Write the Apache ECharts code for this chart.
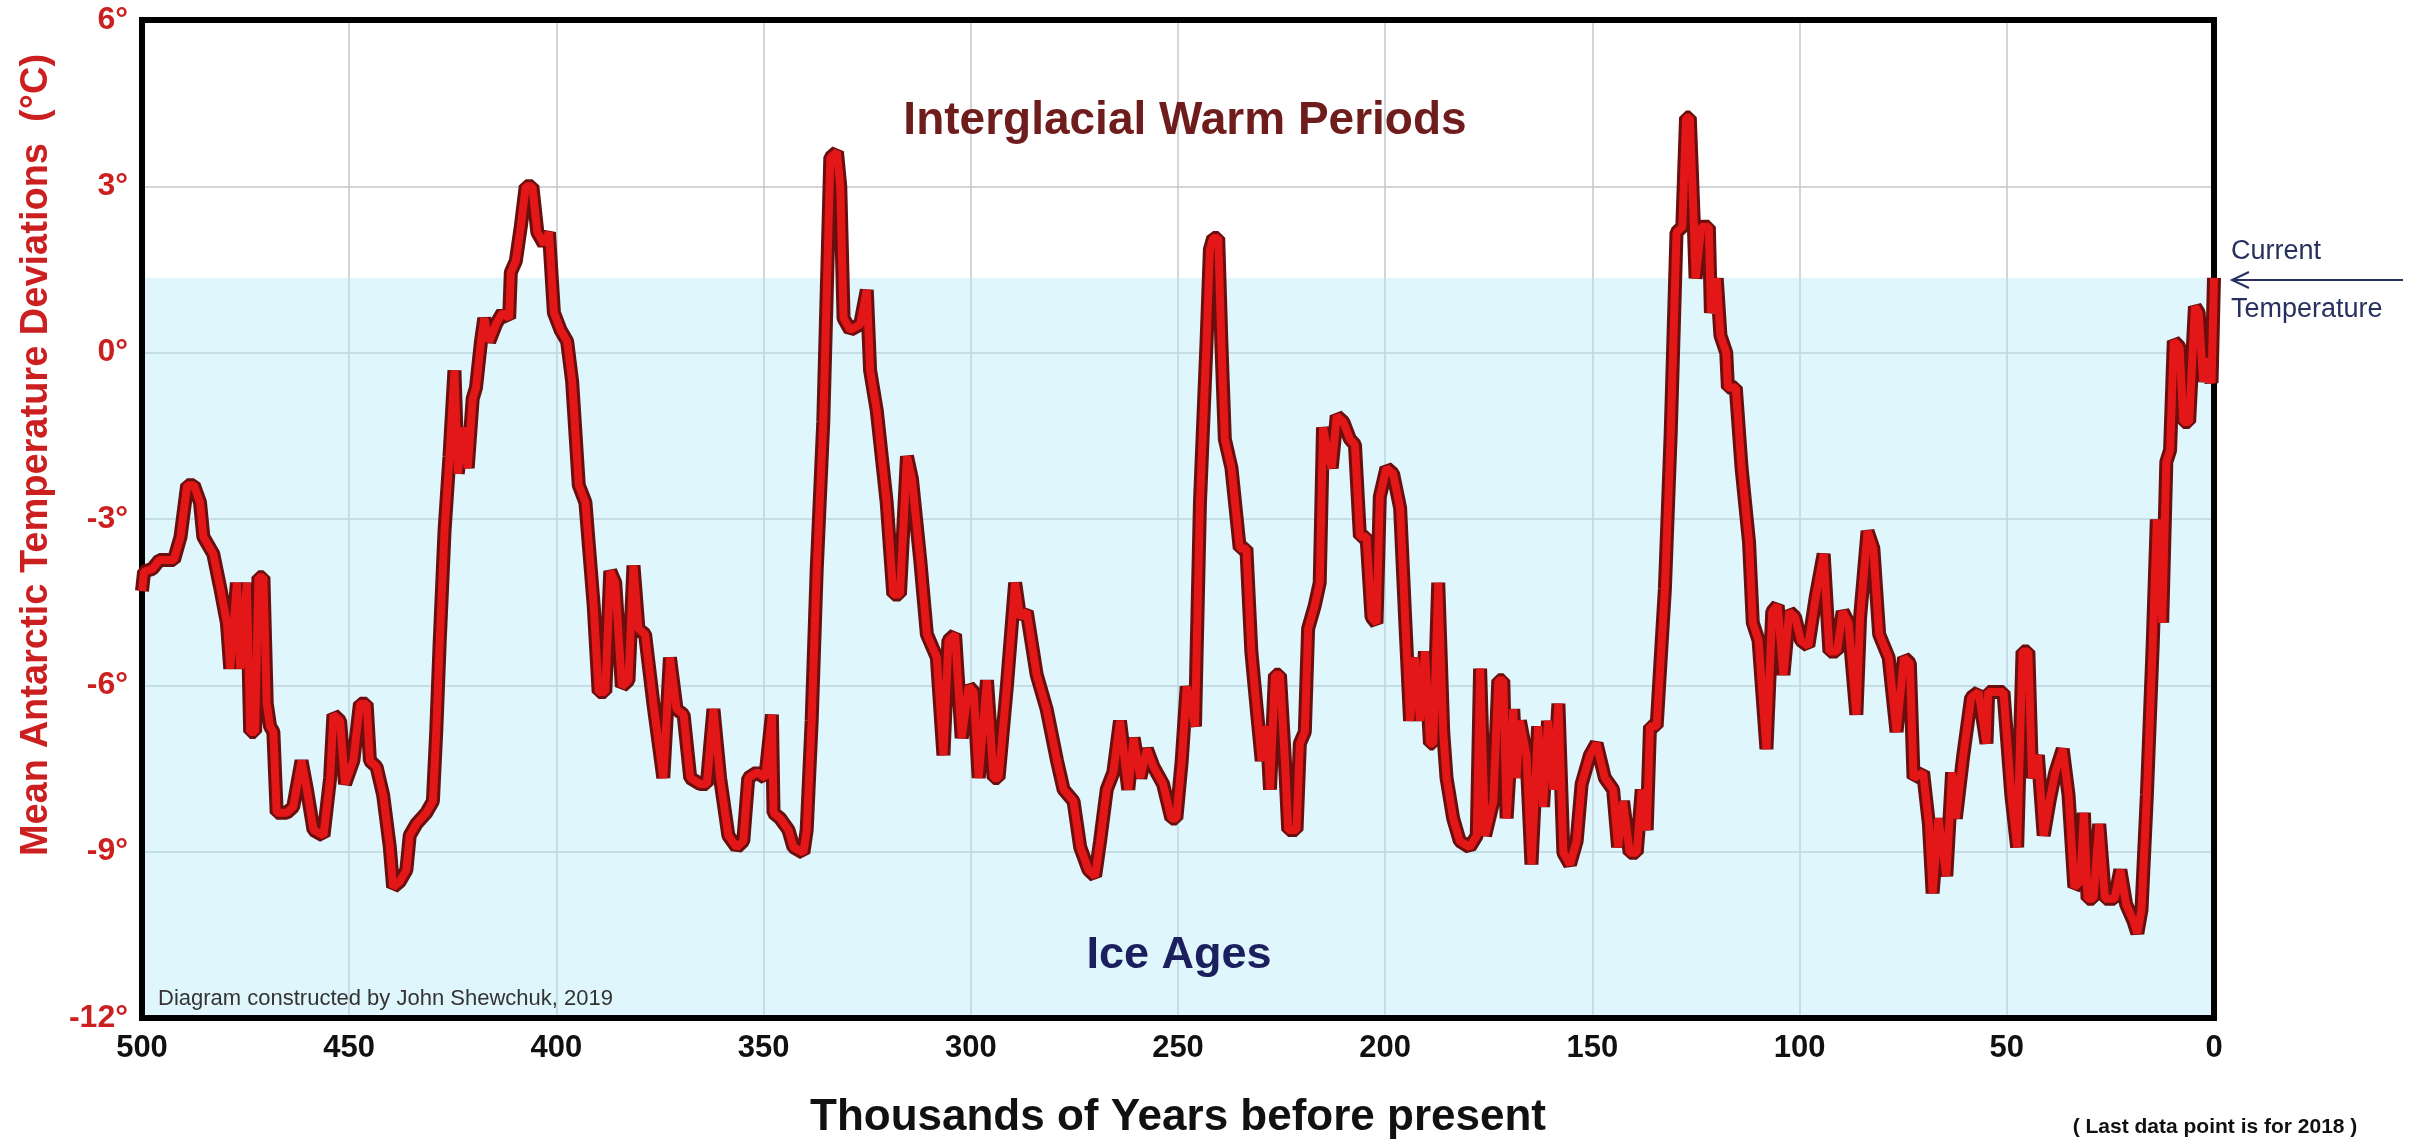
<!DOCTYPE html>
<html>
<head>
<meta charset="utf-8">
<script src="https://cdn.jsdelivr.net/npm/echarts@6/dist/echarts.min.js"></script>
<style>
html,body{margin:0;padding:0;background:#fff;}
#chart{width:2426px;height:1146px;}
</style>
</head>
<body>
<div id="chart"></div>
<script>
// Thousands of years before present
const years = [
500,499.5,497.5,495.8,492.3,490.7,489.1,487.5,486.0,485.2,482.8,481.1,479.5,478.7,477.1,476.3,474.7,473.9,472.7,471.9,
470.7,469.9,469.1,468.3,467.5,465.1,463.5,461.5,460.2,458.6,456.2,454.6,453.8,452.2,451.0,449.0,447.4,445.8,445.0,443.4,
441.8,440.2,439.4,437.8,436.2,435.4,433.8,431.4,429.8,429.0,428.2,427.0,425.8,424.6,423.8,422.6,421.4,420.2,419.4,418.2,
417.4,416.2,414.6,413.0,411.4,411.0,409.8,408.6,407.4,405.8,404.6,403.0,401.8,400.6,399.0,397.4,396.2,394.6,393.0,391.0,
389.8,388.2,387.0,385.8,384.2,382.6,381.4,380.2,378.6,376.6,374.2,372.6,371.0,369.3,367.7,365.3,363.7,362.1,360.5,358.5,
356.5,354.9,353.7,351.6,349.6,348.0,347.6,346.0,344.0,342.8,340.4,339.6,338.4,337.2,335.6,333.9,332.3,331.5,330.7,329.1,
326.7,325.1,324.3,322.7,320.3,318.7,317.1,315.4,314.2,312.2,310.6,308.2,306.6,305.4,303.8,302.2,300.5,299.3,298.1,296.1,
294.5,293.3,291.3,289.3,288.1,286.5,284.1,281.7,279.2,277.6,275.2,273.6,271.6,270.0,268.8,267.2,265.6,264.0,262.0,260.7,
259.1,257.5,255.9,253.6,251.6,250.4,249.1,247.9,245.9,244.7,243.1,242.3,241.5,240.3,239.5,238.7,237.1,235.1,233.5,232.3,
231.0,229.8,228.6,227.8,226.6,225.4,224.2,223.4,221.4,220.6,219.4,218.6,217.0,215.8,215.0,214.2,212.9,211.7,210.1,208.5,
207.3,206.1,204.5,203.3,202.1,201.3,199.7,198.1,196.4,195.2,194.0,192.8,191.6,190.4,189.2,188.4,187.2,186.0,185.2,183.6,
182.0,179.6,177.9,177.1,175.9,173.9,172.7,171.5,170.7,169.1,168.3,167.5,165.9,164.7,163.1,161.9,160.7,159.4,158.2,157.0,
155.4,153.8,152.6,150.6,149.0,147.0,145.0,143.8,142.6,141.0,139.3,138.1,136.9,136.1,134.5,132.5,131.1,129.7,128.3,127.4,
126.5,125.6,125.1,123.7,121.9,121.4,120.0,119.1,117.7,117.3,115.4,114.0,112.2,111.3,109.9,108.0,106.6,105.3,103.9,102.5,
101.1,99.7,97.9,96.0,94.2,92.8,91.0,89.6,88.2,86.3,85.4,83.6,82.2,80.8,78.5,76.6,74.8,73.4,72.5,70.2,
68.8,67.9,66.5,64.6,63.2,62.3,60.5,58.6,56.8,54.9,54.5,52.2,50.8,48.9,47.5,46.2,44.8,43.9,42.5,41.1,
39.7,38.3,36.5,35.1,33.7,32.3,31.4,30.5,29.1,27.7,26.3,24.0,22.6,21.2,19.4,18.5,17.5,16.2,14.8,13.8,
12.5,11.5,10.6,9.7,8.3,7.4,6.0,4.6,3.7,2.6,1.4,0.6,0.0
];
// Mean Antarctic temperature deviation (°C)
const temps = [
-4.3,-3.95,-3.9,-3.74,-3.74,-3.32,-2.39,-2.39,-2.70,-3.32,-3.63,-4.25,-4.88,-5.70,-4.15,-5.70,-4.15,-6.84,-6.84,-4.05,
-4.05,-6.33,-6.74,-6.84,-8.30,-8.30,-8.19,-7.36,-7.88,-8.61,-8.71,-7.67,-6.53,-6.64,-7.78,-7.36,-6.33,-6.33,-7.36,-7.47,
-7.98,-8.92,-9.64,-9.54,-9.33,-8.71,-8.50,-8.30,-8.09,-6.84,-5.29,-3.22,-1.87,-0.32,-2.18,-1.35,-2.08,-0.83,-0.63,0.20,
0.62,0.20,0.51,0.72,0.62,1.45,1.65,2.27,3.00,3.00,2.17,1.96,2.17,0.72,0.41,0.20,-0.52,-2.39,-2.70,-4.56,
-6.12,-6.12,-3.94,-4.15,-6.02,-5.91,-3.84,-4.98,-5.08,-6.33,-7.67,-5.50,-6.43,-6.53,-7.67,-7.78,-7.78,-6.43,-7.67,-8.71,
-8.92,-8.81,-7.67,-7.57,-7.67,-6.53,-8.30,-8.40,-8.61,-8.92,-9.02,-8.61,-6.64,-3.94,-1.25,3.52,3.62,3.00,0.62,0.41,
0.51,1.13,-0.32,-1.04,-2.70,-4.36,-4.36,-1.87,-2.28,-3.74,-5.08,-5.50,-7.26,-5.19,-5.08,-6.95,-6.02,-6.12,-7.67,-5.91,
-7.67,-7.67,-6.02,-4.15,-4.77,-4.67,-5.81,-6.43,-7.36,-7.88,-8.09,-8.92,-9.33,-9.44,-8.81,-7.88,-7.57,-6.64,-7.88,-6.95,
-7.67,-7.15,-7.47,-7.78,-8.40,-8.40,-7.36,-6.02,-6.74,-2.70,0.21,1.86,2.07,2.07,0.10,-1.56,-2.08,-3.53,-3.53,-5.39,
-6.43,-7.36,-6.74,-7.88,-5.81,-5.81,-7.36,-8.61,-8.61,-7.05,-6.84,-4.98,-4.56,-4.15,-1.35,-1.66,-2.08,-1.14,-1.25,-1.56,
-1.66,-3.32,-3.32,-4.77,-4.88,-2.60,-2.08,-2.18,-2.80,-4.77,-6.64,-5.50,-6.64,-5.39,-7.05,-7.05,-4.15,-6.84,-7.67,-8.40,
-8.81,-8.92,-8.71,-5.70,-8.71,-8.09,-5.91,-5.91,-8.40,-6.43,-7.67,-6.64,-7.26,-9.23,-6.74,-8.19,-6.64,-7.88,-6.33,-9.02,
-9.23,-8.81,-7.78,-7.26,-7.05,-7.67,-7.88,-8.92,-8.09,-9.02,-9.02,-7.88,-8.61,-6.74,-6.74,-4.25,-1.45,2.17,2.27,4.24,
4.24,2.48,1.34,2.27,2.27,0.72,1.34,0.31,0.00,-0.63,-0.63,-2.08,-3.42,-4.87,-5.19,-7.15,-4.67,-4.56,-5.81,-4.67,
-4.77,-5.19,-5.29,-4.36,-3.63,-5.39,-5.39,-4.67,-4.87,-6.53,-4.77,-3.22,-3.53,-5.08,-5.50,-6.84,-5.50,-5.60,-7.67,-7.57,
-8.50,-9.75,-8.40,-9.44,-7.57,-8.40,-7.26,-6.22,-6.12,-7.05,-6.12,-6.12,-6.12,-7.98,-8.92,-5.39,-5.39,-7.67,-7.26,-8.71,
-8.09,-7.57,-7.15,-7.98,-9.64,-9.54,-8.30,-9.85,-9.85,-8.50,-9.85,-9.85,-9.33,-9.95,-10.26,-10.47,-10.05,-7.98,-5.29,-3.01,
-4.87,-1.97,-1.76,0.21,0.10,-1.25,-1.25,0.83,0.72,-0.52,-0.10,-0.55,1.35
];
// Current temperature level (top of the "ice age" shaded band)
const currentTemp = 1.35;
const xTicks = [500, 450, 400, 350, 300, 250, 200, 150, 100, 50, 0];
const yTicks = [6, 3, 0, -3, -6, -9, -12];

const data = years.map((y, i) => [y, temps[i]]);
const FONT = "'Liberation Sans', Arial, sans-serif";

const chart = echarts.init(document.getElementById('chart'), null, {renderer: 'canvas'});
chart.setOption({
  animation: false,
  backgroundColor: '#ffffff',
  grid: {
    left: 142, right: 212, top: 20, bottom: 128,
    show: true, backgroundColor: 'transparent', borderColor: '#000000', borderWidth: 6, z: 2
  },
  xAxis: {
    type: 'value', inverse: true, z: 0,
    min: xTicks[xTicks.length - 1], max: xTicks[0], interval: 50,
    axisLine: {show: false}, axisTick: {show: false},
    axisLabel: {show: true, showMinLabel: true, showMaxLabel: true, margin: 15,
      color: '#111111', fontSize: 31, fontWeight: 'bold', fontFamily: FONT},
    splitLine: {show: true, lineStyle: {color: '#c4c9cc', width: 1.5}}
  },
  yAxis: {
    type: 'value', z: 0,
    min: yTicks[yTicks.length - 1], max: yTicks[0], interval: 3,
    axisLine: {show: false}, axisTick: {show: false},
    axisLabel: {show: true, showMinLabel: true, showMaxLabel: true, margin: 14,
      formatter: v => v + '°', color: '#cc2020', fontSize: 32, fontWeight: 'bold', fontFamily: FONT},
    splitLine: {show: true, lineStyle: {color: '#c4c9cc', width: 1.5}}
  },
  series: [
    {
      type: 'line', data: data, showSymbol: false, z: 3,
      lineStyle: {color: '#6a0e0e', width: 14, join: 'bevel', cap: 'butt'},
      markArea: {
        silent: true, z: 1,
        itemStyle: {color: 'rgba(178,234,248,0.42)'},
        data: [[{yAxis: yTicks[yTicks.length - 1]}, {yAxis: currentTemp}]]
      }
    },
    {
      type: 'line', data: data, showSymbol: false, z: 4,
      lineStyle: {color: '#e31717', width: 8, join: 'bevel', cap: 'butt'}
    }
  ],
  graphic: [
    {type: 'text', x: 37, y: 455, rotation: Math.PI / 2, z: 10,
      style: {text: 'Mean Antarctic Temperature Deviations  (°C)', fill: '#cc2020',
        font: 'bold 38px ' + FONT, align: 'center', verticalAlign: 'middle'}},
    {type: 'text', x: 1178, y: 1118, z: 10,
      style: {text: 'Thousands of Years before present', fill: '#111111',
        font: 'bold 44px ' + FONT, align: 'center', verticalAlign: 'middle'}},
    {type: 'text', x: 2215, y: 1127, z: 10,
      style: {text: '( Last data point is for 2018 )', fill: '#111111',
        font: 'bold 21px ' + FONT, align: 'center', verticalAlign: 'middle'}},
    {type: 'text', x: 1185, y: 121, z: 10,
      style: {text: 'Interglacial Warm Periods', fill: '#6e1c1c',
        font: 'bold 46px ' + FONT, align: 'center', verticalAlign: 'middle'}},
    {type: 'text', x: 1179, y: 956, z: 10,
      style: {text: 'Ice Ages', fill: '#1c1f5e',
        font: 'bold 45px ' + FONT, align: 'center', verticalAlign: 'middle'}},
    {type: 'text', x: 158, y: 999, z: 10,
      style: {text: 'Diagram constructed by John Shewchuk, 2019', fill: '#333333',
        font: '22px ' + FONT, align: 'left', verticalAlign: 'middle'}},
    {type: 'text', x: 2231, y: 252, z: 10,
      style: {text: 'Current', fill: '#27305e',
        font: '27px ' + FONT, align: 'left', verticalAlign: 'middle'}},
    {type: 'text', x: 2231, y: 310, z: 10,
      style: {text: 'Temperature', fill: '#27305e',
        font: '27px ' + FONT, align: 'left', verticalAlign: 'middle'}},
    {type: 'line', z: 10, shape: {x1: 2403, y1: 280, x2: 2232, y2: 280},
      style: {stroke: '#27305e', lineWidth: 2}},
    {type: 'polyline', z: 10, shape: {points: [[2249, 272], [2232, 280], [2249, 288]]},
      style: {stroke: '#27305e', lineWidth: 2, fill: null}}
  ]
});
</script>
</body>
</html>
